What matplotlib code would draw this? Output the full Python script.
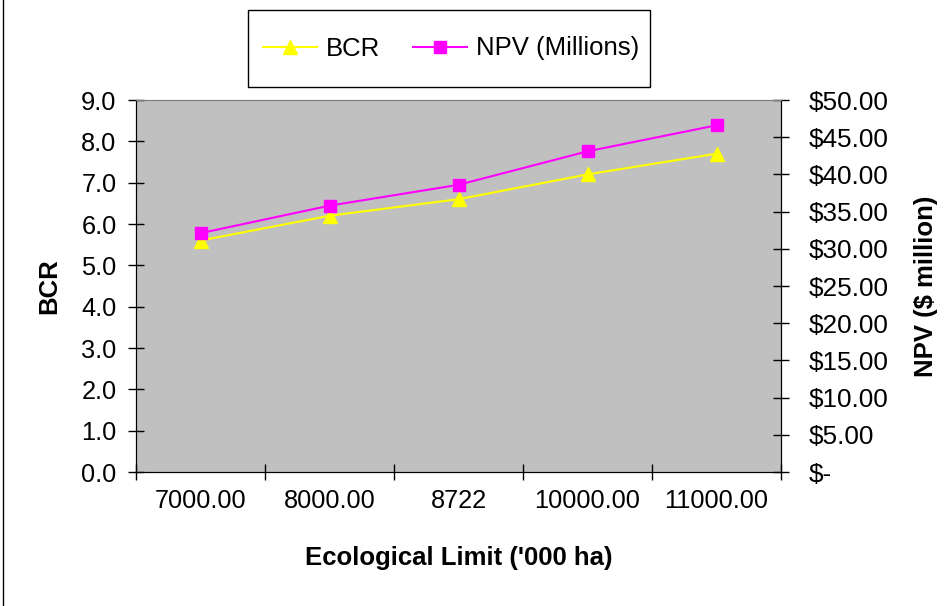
import matplotlib
matplotlib.use('Agg')
import matplotlib.pyplot as plt
from matplotlib.lines import Line2D
from matplotlib.patches import Rectangle

plt.rcParams['font.family'] = ['Liberation Sans', 'DejaVu Sans']

categories = ['7000.00', '8000.00', '8722', '10000.00', '11000.00']
bcr = [5.6, 6.2, 6.6, 7.2, 7.7]
npv = [32.1, 35.8, 38.6, 43.1, 46.6]

bcr_ticks = [0, 1, 2, 3, 4, 5, 6, 7, 8, 9]
npv_ticks = [0, 5, 10, 15, 20, 25, 30, 35, 40, 45, 50]
npv_labels = ['$-'] + ['$%.2f' % v for v in npv_ticks[1:]]

W, H = 952, 606
fig = plt.figure(figsize=(W / 100, H / 100), dpi=100)
ax = fig.add_axes([136 / W, 1 - 472 / H, (781 - 136) / W, (472 - 100) / H])
ax.set_facecolor('#C0C0C0')

x = list(range(len(categories)))
ax.plot(x, bcr, color='#FFFF00', lw=1.5, marker='^', ms=10, zorder=3)
ax.set_xlim(-0.5, len(categories) - 0.5)
ax.set_ylim(0, 9)
ax.set_yticks(bcr_ticks)
ax.set_yticklabels(['%.1f' % v for v in bcr_ticks])
ax.set_xticks([i - 0.5 for i in range(len(categories) + 1)])
ax.set_xticklabels([])
ax.set_xticks(x, minor=True)
ax.set_xticklabels(categories, minor=True)
ax.tick_params(axis='x', which='major', direction='inout', length=12, width=1)
ax.tick_params(axis='x', which='minor', length=0, pad=12, labelsize=18.3)
ax.tick_params(axis='y', direction='inout', length=12, width=1, labelsize=18.3, pad=8)
ax.set_ylabel('BCR', fontsize=18.5, fontweight='bold', labelpad=14)
ax.set_xlabel("Ecological Limit ('000 ha)", fontsize=18.5, fontweight='bold', labelpad=24)

ax2 = ax.twinx()
ax2.plot(x, npv, color='#FF00FF', lw=1.5, marker='s', ms=8.5, zorder=3)
ax2.set_ylim(0, 50)
ax2.set_yticks(npv_ticks)
ax2.set_yticklabels(npv_labels)
ax2.tick_params(axis='y', direction='inout', length=12, width=1, labelsize=18.8, pad=14)
ax2.set_ylabel('NPV ($ million)', fontsize=18.5, fontweight='bold', labelpad=18)

for a in (ax, ax2):
    a.spines['top'].set_color('#808080')
    a.spines['left'].set_color('black')
    a.spines['right'].set_color('black')
    a.spines['bottom'].set_color('black')

handles = [
    Line2D([], [], color='#FFFF00', lw=1.5, marker='^', ms=10),
    Line2D([], [], color='#FF00FF', lw=1.5, marker='s', ms=8.5),
]
leg = fig.legend(handles, ['BCR', 'NPV (Millions)'], loc='center',
                 bbox_to_anchor=(451 / W, 1 - 48.5 / H), ncol=2,
                 frameon=False, handlelength=2.1, handletextpad=0.35,
                 columnspacing=1.3, borderaxespad=0, prop={'size': 18.5})
fig.add_artist(Rectangle((248 / W, 1 - 87 / H), (650 - 248) / W, (87 - 10) / H,
                         transform=fig.transFigure, facecolor='white',
                         edgecolor='black', lw=1.0, zorder=0))

fig.add_artist(Line2D([3 / W, 3 / W], [0, 1], color='black', lw=1,
                      transform=fig.transFigure))

fig.savefig('out.png', dpi=100)
